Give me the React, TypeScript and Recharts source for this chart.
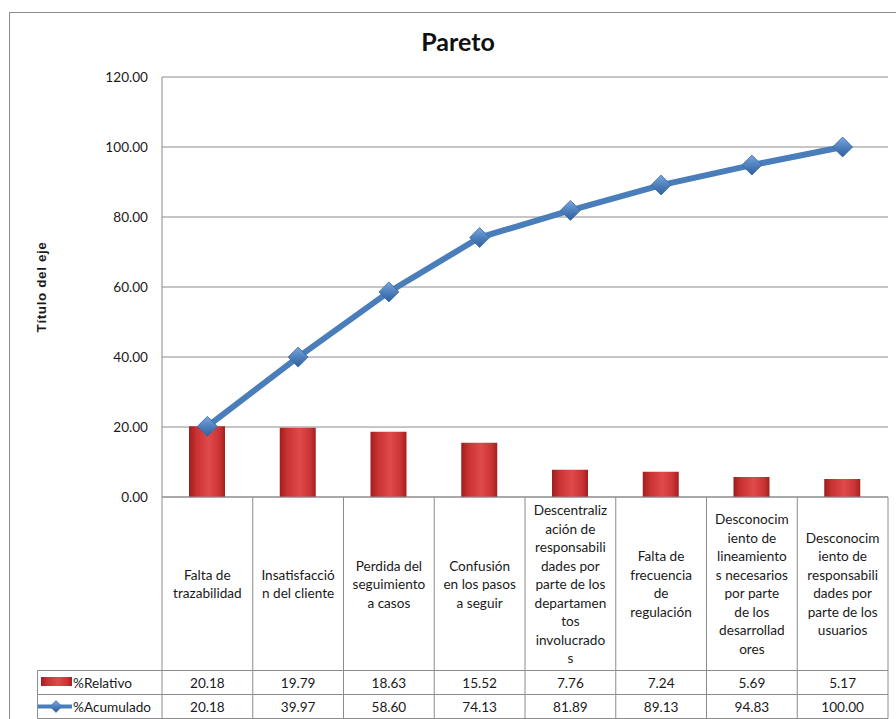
import React from 'react';
import { ComposedChart, Bar, Line, XAxis, YAxis, CartesianGrid, Label } from 'recharts';

// category labels, already wrapped the way the cells show them
const CATEGORY_LINES: string[][] = [
  ['Falta de', 'trazabilidad'],
  ['Insatisfacció', 'n del cliente'],
  ['Perdida del', 'seguimiento', 'a casos'],
  ['Confusión', 'en los pasos', 'a seguir'],
  ['Descentraliz', 'ación de', 'responsabili', 'dades por', 'parte de los', 'departamen', 'tos', 'involucrado', 's'],
  ['Falta de', 'frecuencia', 'de', 'regulación'],
  ['Desconocim', 'iento de', 'lineamiento', 's necesarios', 'por parte', 'de los', 'desarrollad', 'ores'],
  ['Desconocim', 'iento de', 'responsabili', 'dades por', 'parte de los', 'usuarios'],
];
const RELATIVO = [20.18, 19.79, 18.63, 15.52, 7.76, 7.24, 5.69, 5.17];
const ACUMULADO = [20.18, 39.97, 58.6, 74.13, 81.89, 89.13, 94.83, 100.0];
const Y_TICKS = [0, 20, 40, 60, 80, 100, 120];
const SERIES_NAMES = ['%Relativo', '%Acumulado'];
const CHART_TITLE = 'Pareto';
const AXIS_TITLE = 'Título del eje';

const data = CATEGORY_LINES.map((lines, i) => ({
  name: lines.join(' '),
  rel: RELATIVO[i],
  acum: ACUMULADO[i],
}));

// layout
const W = 896;
const H = 719;
const PLOT_LEFT = 162;
const PLOT_RIGHT = 888;
const PLOT_TOP = 77;
const PLOT_BOTTOM = 497;
const BAND = (PLOT_RIGHT - PLOT_LEFT) / CATEGORY_LINES.length;
const CAT_CENTER = 584;
const LINE_H = 18.5;
const ROW1 = 670.5;
const ROW2 = 694.5;
const TABLE_BOTTOM = 718.5;
const LEGEND_LEFT = 37.5;
const GRID = '#8c8c8c';
const FONT = 'Lato, "Open Sans", sans-serif';
const TXT = '#1a1a1a';
const FS = 13.6;

const TableTick = (props: any) => {
  const { x, payload } = props;
  const i = payload.index;
  const lines = CATEGORY_LINES[i];
  const left = x - BAND / 2;
  const right = x + BAND / 2;
  const first = CAT_CENTER - ((lines.length - 1) / 2) * LINE_H;
  return (
    <g>
      {i === 0 && (
        <g>
          <line x1={left} y1={PLOT_BOTTOM} x2={left} y2={TABLE_BOTTOM} stroke={GRID} />
          <line x1={LEGEND_LEFT} y1={ROW1} x2={left} y2={ROW1} stroke={GRID} />
          <line x1={LEGEND_LEFT} y1={ROW2} x2={left} y2={ROW2} stroke={GRID} />
          <line x1={LEGEND_LEFT} y1={TABLE_BOTTOM} x2={left} y2={TABLE_BOTTOM} stroke={GRID} />
          <line x1={LEGEND_LEFT} y1={ROW1} x2={LEGEND_LEFT} y2={TABLE_BOTTOM} stroke={GRID} />
          <rect x={41} y={677} width={31} height={9} fill="url(#barGrad)" />
          <text x={73} y={682.5} fontSize={FS} fill={TXT} dominantBaseline="central">{SERIES_NAMES[0]}</text>
          <line x1={38} y1={706.5} x2={72} y2={706.5} stroke="#4a7ebb" strokeWidth={4} />
          <path d="M56,700.5 L62,706.5 L56,712.5 L50,706.5 Z" fill="url(#diamondGrad)" stroke="#3a6aa5" strokeWidth={0.6} />
          <text x={73} y={706.5} fontSize={FS} fill={TXT} dominantBaseline="central">{SERIES_NAMES[1]}</text>
        </g>
      )}
      <line x1={right} y1={PLOT_BOTTOM} x2={right} y2={TABLE_BOTTOM} stroke={GRID} />
      <line x1={left} y1={ROW1} x2={right} y2={ROW1} stroke={GRID} />
      <line x1={left} y1={ROW2} x2={right} y2={ROW2} stroke={GRID} />
      <line x1={left} y1={TABLE_BOTTOM} x2={right} y2={TABLE_BOTTOM} stroke={GRID} />
      {lines.map((ln, k) => (
        <text key={k} x={x} y={first + k * LINE_H} textAnchor="middle" dominantBaseline="central" fontSize={FS} fill={TXT}>
          {ln}
        </text>
      ))}
      <text x={x} y={682.5} textAnchor="middle" dominantBaseline="central" fontSize={FS} fill={TXT}>
        {RELATIVO[i].toFixed(2)}
      </text>
      <text x={x} y={706.5} textAnchor="middle" dominantBaseline="central" fontSize={FS} fill={TXT}>
        {ACUMULADO[i].toFixed(2)}
      </text>
    </g>
  );
};

const Diamond = (props: any) => {
  const { cx, cy } = props;
  if (cx == null || cy == null) return null;
  const r = 10;
  return (
    <path
      d={`M${cx},${cy - r} L${cx + r},${cy} L${cx},${cy + r} L${cx - r},${cy} Z`}
      fill="url(#diamondGrad)"
      stroke="#3a6aa5"
      strokeWidth={0.8}
    />
  );
};

const AxisTitle = () => (
  <text
    x={41}
    y={287}
    transform="rotate(-90 41 287)"
    textAnchor="middle"
    dominantBaseline="central"
    fontSize={13.5}
    letterSpacing={0.6}
    fontWeight="bold"
    fontFamily='"Liberation Sans", Arial, sans-serif'
    fill={TXT}
  >
    {AXIS_TITLE}
  </text>
);

export default function App() {
  return (
    <div style={{ position: 'absolute', left: 0, top: 0, width: W, height: H, overflow: 'hidden', background: '#fff', fontFamily: FONT }}>
      <div style={{ position: 'absolute', left: 9, top: 12, width: 920, height: 740, border: '1px solid #8c8c8c' }} />
      <div style={{ position: 'absolute', left: 0, width: 916, top: 26, textAlign: 'center', fontSize: 25, fontWeight: 'bold', color: '#111' }}>
        {CHART_TITLE}
      </div>
      <div style={{ position: 'absolute', left: 0, top: 0 }}>
        <ComposedChart width={W} height={H} data={data} margin={{ top: PLOT_TOP, right: W - PLOT_RIGHT, left: 0, bottom: 0 }} style={{ fontFamily: FONT }}>
          <defs>
            <linearGradient id="barGrad" x1="0" y1="0" x2="1" y2="0">
              <stop offset="0%" stopColor="#9e1e1e" />
              <stop offset="20%" stopColor="#c83232" />
              <stop offset="55%" stopColor="#e04a4a" />
              <stop offset="85%" stopColor="#c93333" />
              <stop offset="100%" stopColor="#a12020" />
            </linearGradient>
            <linearGradient id="diamondGrad" x1="0" y1="0" x2="0" y2="1">
              <stop offset="0%" stopColor="#7aa7df" />
              <stop offset="50%" stopColor="#4f81bd" />
              <stop offset="100%" stopColor="#2f5f9a" />
            </linearGradient>
          </defs>
          <CartesianGrid vertical={false} stroke={GRID} />
          <XAxis
            dataKey="name"
            height={H - PLOT_BOTTOM}
            interval={0}
            tickLine={false}
            axisLine={{ stroke: GRID }}
            tick={(p: any) => <TableTick {...p} />}
          />
          <YAxis
            width={PLOT_LEFT}
            domain={[0, 120]}
            ticks={Y_TICKS}
            tickFormatter={(v: number) => v.toFixed(2)}
            tickLine={false}
            tickSize={6}
            tickMargin={8}
            axisLine={{ stroke: GRID }}
            tick={{ fontSize: FS, fill: TXT }}
          >
            <Label content={<AxisTitle />} />
          </YAxis>
          <Bar dataKey="rel" name={SERIES_NAMES[0]} barSize={36} fill="url(#barGrad)" isAnimationActive={false} />
          <Line
            dataKey="acum"
            name={SERIES_NAMES[1]}
            stroke="#4a7ebb"
            strokeWidth={6}
            dot={<Diamond />}
            activeDot={false}
            isAnimationActive={false}
          />
        </ComposedChart>
      </div>
    </div>
  );
}
